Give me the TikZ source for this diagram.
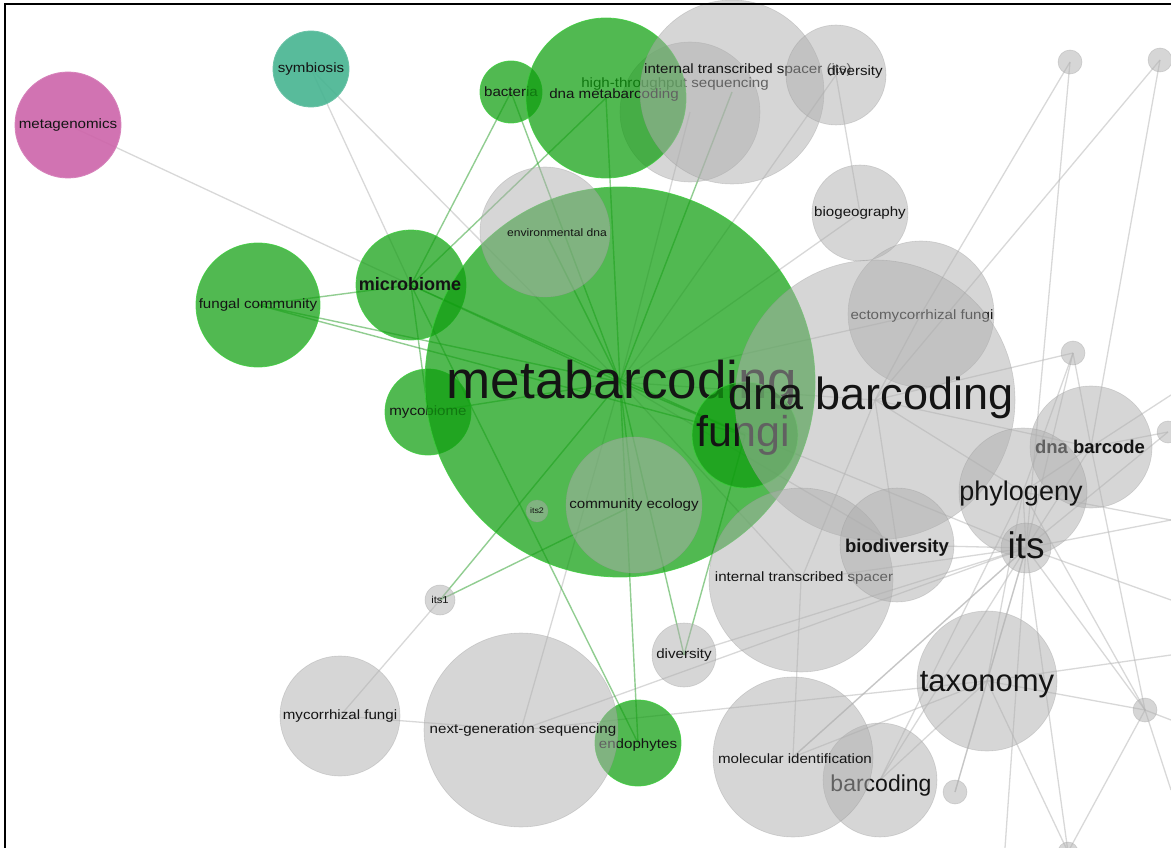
\documentclass[tikz,border=0pt]{standalone}
\usepackage{fontspec}
\setmainfont{Liberation Sans}
\newfontfamily\smallf[FakeStretch=1.12]{Liberation Sans}
\newfontfamily\bigf{Liberation Sans}
\definecolor{grn}{RGB}{15,158,15}
\definecolor{grnrim}{RGB}{60,205,60}
\definecolor{gry}{RGB}{175,175,175}
\definecolor{gryrim}{RGB}{150,150,150}
\definecolor{pnk}{RGB}{205,100,170}
\definecolor{tea}{RGB}{70,180,145}
\definecolor{labc}{RGB}{20,20,20}
\definecolor{gedgec}{RGB}{185,185,185}
\definecolor{nedgec}{RGB}{55,165,55}
\pgfdeclarelayer{bglayer}
\pgfdeclarelayer{edgelayer}
\pgfsetlayers{bglayer,edgelayer,main}
\tikzset{
  gb/.style={circle,inner sep=0pt,minimum size=#1pt,fill=grn,fill opacity=.72,draw=grnrim,draw opacity=.8,line width=.8pt},
  yb/.style={circle,inner sep=0pt,minimum size=#1pt,fill=gry,fill opacity=.5,draw=gryrim,draw opacity=.35,line width=.6pt},
  pb/.style={circle,inner sep=0pt,minimum size=#1pt,fill=pnk,fill opacity=.9,draw=pnk!80!white,line width=.8pt},
  tb/.style={circle,inner sep=0pt,minimum size=#1pt,fill=tea,fill opacity=.9,draw=tea!80!white,line width=.8pt},
  lab/.style={inner sep=0pt,text=labc,font=\smallf\fontsize{13.5}{14}\selectfont},
  blab/.style={inner sep=0pt,text=labc,anchor=base},
  gedge/.style={draw=gedgec,line width=1.3pt,draw opacity=.55},
  nedge/.style={draw=nedgec,line width=1.4pt,draw opacity=.55},
}
\begin{document}
\begin{tikzpicture}[x=1pt,y=-1pt]
\useasboundingbox (0,0) rectangle (1171,848);
\begin{pgfonlayer}{bglayer}
\fill[white] (0,0) rectangle (1171,848);
\end{pgfonlayer}
% free ends at the picture border
\coordinate (r1) at (1171,520);
\coordinate (r2) at (1171,600);
\coordinate (r3) at (1171,655);
\coordinate (r4) at (1171,790);
\coordinate (r5) at (1171,395);
\coordinate (b1) at (1005,848);
\coordinate (b2) at (1171,720);
% ---------- nodes ----------
\node[pb=106] (mgen) at (68,125) {};
\node[lab] at (mgen) {metagenomics};
\node[tb=76] (symb) at (311,69) {};
\node[lab] at (symb) {symbiosis};
\node[yb=140] (hts) at (690,112) {};
\node[lab] at (675,84) {high-throughput sequencing};
\node[gb=62] (bact) at (511,92) {};
\node[lab] at (bact) {bacteria};
\node[gb=160] (dmb) at (606,98) {};
\node[lab] at (614,95) {dna metabarcoding};
\node[yb=184] (itsits) at (732,92) {};
\node[lab] at (748,70) {internal transcribed spacer (its)};
\node[yb=100] (divt) at (836,75) {};
\node[lab] at (855,72) {diversity};
\node[yb=96] (biog) at (860,213) {};
\node[lab] at (biog) {biogeography};
\node[gb=110] (micro) at (411,285) {};
\node[gb=124] (fcom) at (258,305) {};
\node[lab] at (fcom) {fungal community};
\node[gb=86] (myco) at (428,412) {};
\node[lab] at (myco) {mycobiome};
\node[gb=390] (meta) at (620,382) {};
\node[blab,font=\bigf\fontsize{53}{56}\selectfont] at (622,398) {metabarcoding};
\node[blab,font=\bigf\bfseries\fontsize{18}{20}\selectfont] at (410,290) {microbiome};
\node[gb=106] (fungi) at (745,435) {};
\node[blab,font=\bigf\fontsize{43}{46}\selectfont] at (743,446) {fungi};
\node[yb=130] (edna) at (545,232) {};
\node[lab,font=\smallf\fontsize{10.8}{12}\selectfont] at (557,233) {environmental dna};
\node[yb=136] (comeco) at (634,505) {};
\node[lab] at (comeco) {community ecology};
\node[yb=22] (its2) at (537,511) {};
\node[lab,font=\smallf\fontsize{8}{9}\selectfont] at (its2) {its2};
\node[yb=146] (ecto) at (921,314) {};
\node[lab] at (922,316) {ectomycorrhizal fungi};
\node[yb=280] (dnab) at (875,400) {};
\node[blab,font=\bigf\fontsize{45}{48}\selectfont] at (871,409) {dna barcoding};
\node[yb=184] (itsp) at (801,580) {};
\node[lab] at (804,578) {internal transcribed spacer};
\node[yb=114] (biodiv) at (897,545) {};
\node[blab,font=\bigf\bfseries\fontsize{18.5}{20}\selectfont] at (897,552) {biodiversity};
\node[yb=122] (dnabc) at (1091,447) {};
\node[blab,font=\bigf\bfseries\fontsize{18.5}{20}\selectfont] at (1090,453) {dna barcode};
\node[yb=128] (phylo) at (1023,492) {};
\node[blab,font=\bigf\fontsize{27}{30}\selectfont] at (1021,500) {phylogeny};
\node[yb=50] (its) at (1026,548) {};
\node[blab,font=\bigf\fontsize{37}{40}\selectfont] at (1026,558) {its};
\node[gb=86] (endo) at (638,743) {};
\node[lab] at (638,745) {endophytes};
\node[yb=194] (ngs) at (521,730) {};
\node[lab] at (523,730) {next-generation sequencing};
\node[yb=120] (mycor) at (340,716) {};
\node[lab] at (mycor) {mycorrhizal fungi};
\node[yb=30] (its1) at (440,600) {};
\node[lab,font=\smallf\fontsize{10}{11}\selectfont] at (its1) {its1};
\node[yb=64] (divb) at (684,655) {};
\node[lab] at (divb) {diversity};
\node[yb=140] (taxo) at (987,681) {};
\node[blab,font=\bigf\fontsize{31}{34}\selectfont] at (987,691) {taxonomy};
\node[yb=114] (barc) at (880,780) {};
\node[blab,font=\bigf\fontsize{23}{26}\selectfont] at (881,791) {barcoding};
\node[yb=160] (molid) at (793,757) {};
\node[lab] at (795,759) {molecular identification};
\node[yb=24] (d1) at (1070,62) {};
\node[yb=24] (d2) at (1160,60) {};
\node[yb=24] (d3) at (1073,353) {};
\node[yb=22] (d4) at (1168,432) {};
\node[yb=24] (d5) at (1145,710) {};
\node[yb=24] (d6) at (955,792) {};
\node[yb=20] (d7) at (1068,852) {};
% ---------- connectors ----------
\begin{pgfonlayer}{edgelayer}
\foreach \a/\b in {mgen/micro,symb/micro,symb/meta,its1/mycor,mycor/ngs,ngs/meta,ngs/its,
  d1/ecto,d1/its,d2/dnab,d2/dnabc,d3/dnab,d3/dnabc,d3/phylo,d3/its,d4/dnabc,d4/its,
  its/taxo,its/barc,its/molid,its/d5,its/d7,its/d6,its/biodiv,its/itsp,its/meta,its/phylo,its/dnabc,
  taxo/d5,taxo/barc,taxo/phylo,taxo/d6,taxo/d7,d5/phylo,d5/dnabc,d5/d7,
  molid/itsp,biodiv/dnab,biodiv/meta,itsp/meta,itsp/dnab,phylo/dnab,phylo/dnabc,
  dnabc/dnab,ecto/dnab,ecto/meta,biog/meta,biog/divt,divt/meta,hts/meta,dnab/meta,divb/its,
  its/r1,its/r2,taxo/r3,d5/r4,dnabc/r5,its/b1,d5/b2,phylo/r1,molid/its,barc/phylo,molid/taxo,ngs/taxo}
  \draw[gedge] (\a.center) -- (\b.center);
\foreach \a/\b in {meta/micro,meta/bact,meta/dmb,meta/fcom,meta/myco,meta/its1,meta/endo,meta/divb,
  meta/comeco,meta/edna,meta/fungi,meta/itsits,micro/bact,micro/dmb,micro/fcom,micro/myco,micro/fungi,
  micro/endo,its1/comeco,divb/fungi,fcom/fungi}
  \draw[nedge] (\a.center) -- (\b.center);
\end{pgfonlayer}
% frame
\draw[line width=2pt,black] (5,848) -- (5,4) -- (1171,4);
\end{tikzpicture}
\end{document}
